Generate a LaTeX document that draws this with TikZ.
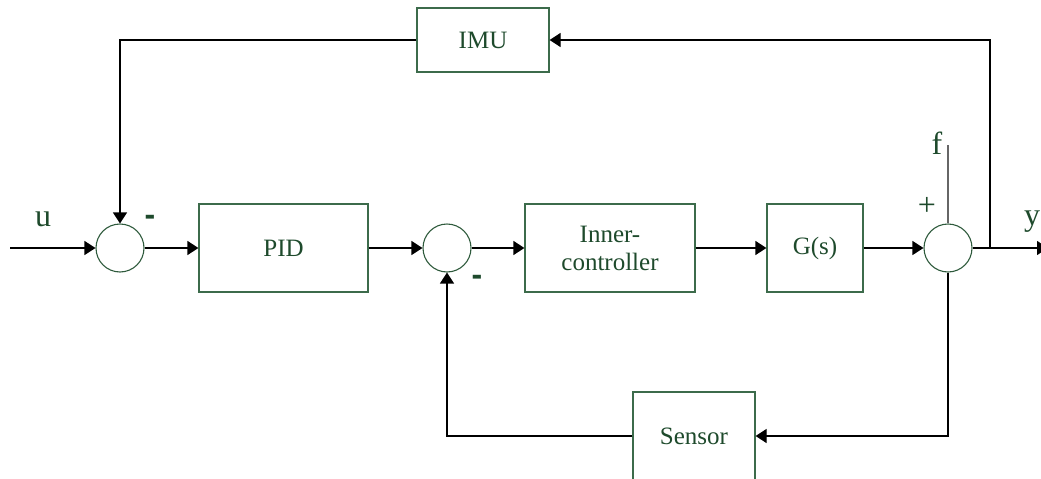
\documentclass[tikz,border=0pt]{standalone}
\usepackage{fontspec}
\setmainfont{Liberation Serif}
\newfontfamily\dashfont{Liberation Sans}
\usetikzlibrary{arrows.meta}
\definecolor{txtgreen}{HTML}{1E4A2C}
\definecolor{boxgreen}{HTML}{3C6B4B}
\definecolor{circgreen}{HTML}{2E5A3C}
\begin{document}
\begin{tikzpicture}[x=1pt,y=-1pt,
  blockbox/.style={draw=boxgreen,line width=1.2pt,minimum height=88pt,inner sep=0pt,
    text=txtgreen,font=\fontsize{25}{28}\selectfont,align=center},
  sumnode/.style={draw=circgreen,line width=1.1pt,circle,minimum size=48pt,inner sep=0pt},
  sig/.style={line width=1.2pt,black},
  sigarrow/.style={sig,-{Triangle[length=11pt,width=14pt]}},
  biglabel/.style={text=txtgreen,font=\fontsize{32}{34}\selectfont,inner sep=0pt},
  minuslabel/.style={text=txtgreen,font=\dashfont\bfseries\fontsize{32}{34}\selectfont,inner sep=0pt}]
\useasboundingbox (0,0) rectangle (1041,479);
% nodes
\node[sumnode] (s1) at (120,248) {};
\node[sumnode] (s2) at (447,248) {};
\node[sumnode] (s3) at (948,248) {};
\node[blockbox,minimum width=169pt] (pid) at (283.5,248) {PID};
\node[blockbox,minimum width=170pt] (inner) at (610,248) {Inner-\\controller};
\node[blockbox,minimum width=96pt] (gs) at (815,248) {G(s)};
\node[blockbox,minimum width=132pt,minimum height=64pt] (imu) at (483,40) {IMU};
\node[blockbox,minimum width=122pt] (sensor) at (694,436) {Sensor};
% coordinates
\coordinate (in) at (10,248);
\coordinate (out) at (1048,248);
\coordinate (br) at (990,248);
\coordinate (ftop) at (948,145);
% labels
\node[biglabel] (u) at (43,219) {u};
\node[biglabel] (y) at (1032,222) {y};
\node[biglabel] (f) at (937,143) {f};
\node[biglabel] (plus) at (927,206) {+};
\node[minuslabel] (m1) at (150,220) {-};
\node[minuslabel] (m2) at (477,280) {-};
% connectors
\draw[sigarrow] (in) -- (s1.west);
\draw[sigarrow] (s1.east) -- (pid.west);
\draw[sigarrow] (pid.east) -- (s2.west);
\draw[sigarrow] (s2.east) -- (inner.west);
\draw[sigarrow] (inner.east) -- (gs.west);
\draw[sigarrow] (gs.east) -- (s3.west);
\draw[sigarrow] (s3.east) -- (out);
\draw[line width=1.1pt,gray!80!black] (ftop) -- (s3.north);
\draw[sigarrow] (br) |- (imu.east);
\draw[sigarrow] (imu.west) -| (s1.north);
\draw[sig,gray!80!black] (s3.south) -- ++(0,40);
\draw[sigarrow] (s3.south) |- (sensor.east);
\draw[sigarrow] (sensor.west) -| (s2.south);
\end{tikzpicture}
\end{document}
